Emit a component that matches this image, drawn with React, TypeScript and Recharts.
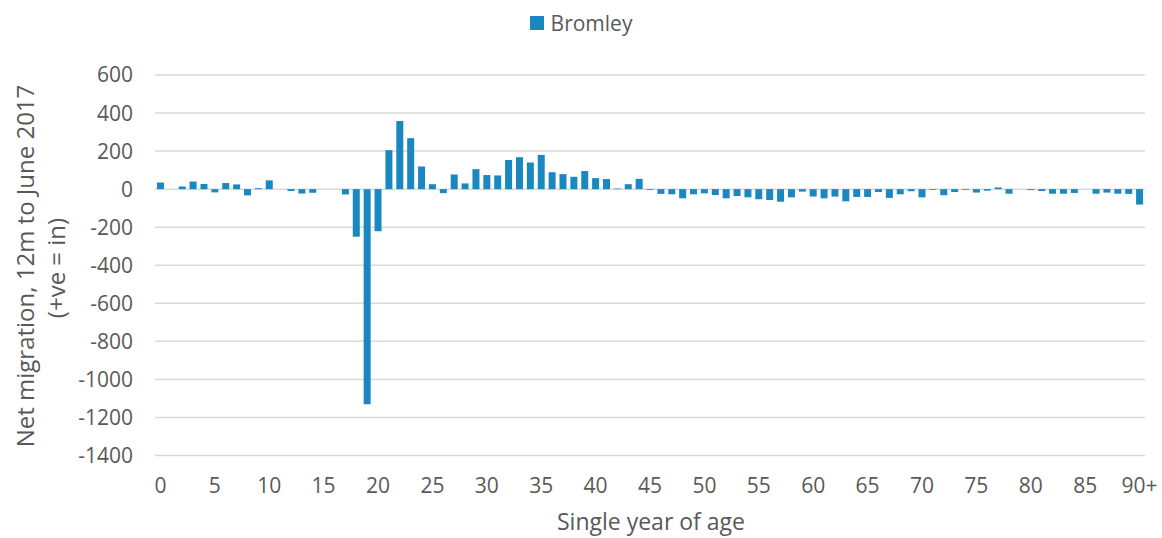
import React from 'react';
import { BarChart, Bar, XAxis, YAxis, CartesianGrid } from 'recharts';

const ages = [
  '0', '1', '2', '3', '4', '5', '6', '7', '8', '9',
  '10', '11', '12', '13', '14', '15', '16', '17', '18', '19',
  '20', '21', '22', '23', '24', '25', '26', '27', '28', '29',
  '30', '31', '32', '33', '34', '35', '36', '37', '38', '39',
  '40', '41', '42', '43', '44', '45', '46', '47', '48', '49',
  '50', '51', '52', '53', '54', '55', '56', '57', '58', '59',
  '60', '61', '62', '63', '64', '65', '66', '67', '68', '69',
  '70', '71', '72', '73', '74', '75', '76', '77', '78', '79',
  '80', '81', '82', '83', '84', '85', '86', '87', '88', '89',
  '90+',
];

const bromley = [
  35, 0, 14, 40, 27, -17, 32, 25, -33, 5,
  46, 0, -10, -23, -19, 0, 0, -28, -250, -1130,
  -221, 205, 358, 268, 119, 26, -21, 77, 30, 105,
  74, 72, 153, 168, 140, 180, 89, 79, 65, 95,
  58, 53, 3, 26, 54, -4, -25, -27, -48, -27,
  -22, -31, -48, -36, -43, -53, -57, -66, -43, -13,
  -39, -48, -39, -64, -41, -41, -15, -46, -27, -11,
  -43, -4, -32, -15, -4, -18, -8, 9, -24, 0,
  -5, -10, -24, -24, -20, 0, -24, -18, -24, -25,
  -81,
];

const yTicks = [600, 400, 200, 0, -200, -400, -600, -800, -1000, -1200, -1400];

const data = ages.map((age, i) => ({ age, value: bromley[i] }));

const FONT = '"Open Sans", sans-serif';
const TEXT = '#595959';
const BLUE = '#1a87c0';

// axis titles drawn as plain svg text, placed to match the original layout
const YTitle = () => (
  <g>
    <text x={24} y={266} transform="rotate(-90 24 266)" textAnchor="middle" dominantBaseline="central"
      fill={TEXT} fontSize={24} fontFamily={FONT}>
      Net migration, 12m to June 2017
    </text>
    <text x={55} y={268} transform="rotate(-90 55 268)" textAnchor="middle" dominantBaseline="central"
      fill={TEXT} fontSize={24} fontFamily={FONT}>
      (+ve = in)
    </text>
  </g>
);

const XTitle = () => (
  <text x={651} y={521} textAnchor="middle" dominantBaseline="central" fill={TEXT} fontSize={23} fontFamily={FONT}>
    Single year of age
  </text>
);

export default function App() {
  return (
    <div style={{ position: 'absolute', left: 0, top: 0, width: 1162, height: 538, background: '#fff' }}>
      <div style={{
        position: 'absolute', top: 0, left: 0, width: 1162, height: 46, display: 'flex', justifyContent: 'center',
        alignItems: 'center', fontFamily: FONT, fontSize: 21, color: TEXT,
      }}>
        <span style={{ display: 'inline-block', width: 14, height: 14, background: BLUE, marginRight: 7 }} />
        <span>Bromley</span>
      </div>
      <BarChart width={1162} height={538} data={data} barCategoryGap="18%"
        margin={{ top: 75, right: 17, bottom: 52.5, left: 0 }}>
        <CartesianGrid vertical={false} stroke="#d9d9d9" strokeWidth={1.5} />
        <XAxis dataKey="age" interval={4} axisLine={false} tickLine={false} tickMargin={17} height={30}
          tick={{ fill: TEXT, fontSize: 21, fontFamily: FONT }}
          label={{ content: () => <XTitle /> }} />
        <YAxis domain={[-1400, 600]} ticks={yTicks} width={155} axisLine={false} tickLine={false}
          tickMargin={16} tick={{ fill: TEXT, fontSize: 21, fontFamily: FONT }}
          label={{ content: () => <YTitle /> }} />
        <Bar dataKey="value" fill={BLUE} isAnimationActive={false} />
      </BarChart>
    </div>
  );
}
